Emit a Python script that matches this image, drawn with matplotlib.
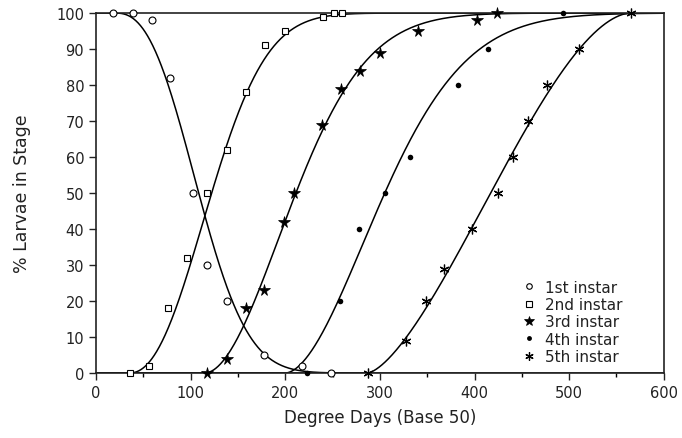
import numpy as np
import matplotlib

matplotlib.use("Agg")
import matplotlib.pyplot as plt
from matplotlib.lines import Line2D

first_x = [18, 39, 59, 78, 103, 117, 138, 178, 218, 248]
first_y = [100, 100, 98, 82, 50, 30, 20, 5, 2, 0]
second_x = [36, 56, 76, 96, 117, 138, 159, 179, 200, 240, 251, 260]
second_y = [0, 2, 18, 32, 50, 62, 78, 91, 95, 99, 100, 100]
third_x = [117, 138, 159, 178, 199, 209, 239, 259, 279, 300, 340, 403, 424]
third_y = [0, 4, 18, 23, 42, 50, 69, 79, 84, 89, 95, 98, 100]
fourth_x = [223, 258, 278, 305, 332, 382, 414, 493]
fourth_y = [0, 20, 40, 50, 60, 80, 90, 100]
fifth_x = [287, 328, 349, 368, 397, 425, 441, 457, 477, 510, 565]
fifth_y = [0, 9, 20, 29, 40, 50, 60, 70, 80, 90, 100]

labels = ["1st instar", "2nd instar", "3rd instar", "4th instar", "5th instar"]

# fitted curves (threshold, scale, shape, tail); tail=None -> Weibull, else bounded
fit_start = [20, 35, 115, 200, 287]
fit_scale = [102.5, 103, 117, 129, 278]
fit_shape = [2.5, 2.2, 1.87, 1.79, 1.5]
fit_tail = [None, None, None, None, 1.8]
fit_falling = [True, False, False, False, False]

MARKERS = [
    dict(marker="o", ms=5, mfc="white", mec="black", mew=0.8),
    dict(marker="s", ms=5, mfc="white", mec="black", mew=0.8),
    dict(marker="*", ms=8.5, mfc="black", mec="black", mew=0.5),
    dict(marker="o", ms=4, mfc="black", mec="black", mew=0),
    dict(marker=(6, 2, 0), ms=7, mfc="black", mec="black", mew=0.9),
]
LEGEND_MS = [4, 4, 7.5, 3.5, 6]
INK = "#222222"


def stage_curve(x, start, scale, shape, tail):
    t = np.clip(x - start, 0, None)
    if tail is None:
        return 1 - np.exp(-(t / scale) ** shape)
    u = np.clip(t / scale, 0, 1)
    return 1 - (1 - u**shape) ** tail


plt.rcParams["font.family"] = "DejaVu Sans"
fig = plt.figure(figsize=(6.82, 4.39), dpi=100)
ax = fig.add_axes([0.1408, 0.148, 0.8325, 0.820])

xs = np.linspace(0, 600, 1201)
points = [(first_x, first_y), (second_x, second_y), (third_x, third_y),
          (fourth_x, fourth_y), (fifth_x, fifth_y)]
for i, (px, py) in enumerate(points):
    f = stage_curve(xs, fit_start[i], fit_scale[i], fit_shape[i], fit_tail[i])
    if fit_falling[i]:
        f = 1 - f
    ax.plot(xs, 100 * f, color="black", lw=1.1, zorder=2)
    ax.plot(px, py, ls="none", zorder=3, clip_on=False, **MARKERS[i])

ax.set_xlim(0, 600)
ax.set_ylim(0, 100)
ax.set_xticks(np.arange(0, 601, 100))
ax.set_xticks(np.arange(50, 600, 100), minor=True)
ax.set_yticks(np.arange(0, 101, 10))
ax.tick_params(axis="both", which="major", direction="out", length=5, width=1.0,
               labelsize=10.5, colors=INK)
ax.tick_params(axis="x", which="minor", direction="out", length=3, width=1.0)
for side in ["left", "bottom", "top", "right"]:
    ax.spines[side].set_linewidth(1.2)
    ax.spines[side].set_color(INK)

ax.set_xlabel("Degree Days (Base 50)", fontsize=12, color=INK, labelpad=6)
ax.set_ylabel("% Larvae in Stage", fontsize=12.5, color=INK, labelpad=18)

handles = []
for i, lab in enumerate(labels):
    style = dict(MARKERS[i])
    style["ms"] = LEGEND_MS[i]
    handles.append(Line2D([], [], ls="none", label=lab, **style))
ax.legend(handles=handles, loc="lower left", bbox_to_anchor=(0.735, 0.0),
          frameon=False, fontsize=11, handlelength=0.8, handletextpad=0.7,
          labelspacing=0.15, borderaxespad=0.2, labelcolor=INK)

fig.savefig("out.png", dpi=100)
